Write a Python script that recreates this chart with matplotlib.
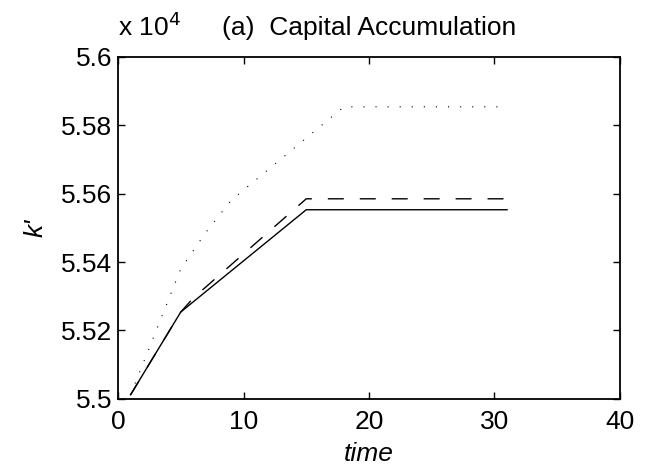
import matplotlib
matplotlib.use('Agg')
import matplotlib.pyplot as plt

plt.rcParams['font.family'] = ['Liberation Sans', 'DejaVu Sans']
plt.rcParams['lines.scale_dashes'] = False

# capital path k' for three scenarios (units of 1)
t_solid = [1, 5, 15, 31]
k_solid = [55012, 55254, 55553, 55553]

t_dash = [1, 5, 6, 15, 31]
k_dash = [55012, 55254, 55295, 55585, 55585]

t_dot = [1, 5, 7, 9, 18, 31]
k_dot = [55012, 55380, 55487, 55580, 55854, 55854]

xticks = [0, 10, 20, 30, 40]
yticks = [5.5, 5.52, 5.54, 5.56, 5.58, 5.6]
scale = 1e4

fig = plt.figure(figsize=(6.46, 4.66), dpi=100)
ax = fig.add_axes([0.1827, 0.144, 0.777, 0.734])

ax.plot(t_dot, [k / scale for k in k_dot], color='k', lw=0.8,
        dashes=(0.8, 7.9))
ax.plot(t_dash, [k / scale for k in k_dash], color='k', lw=1.0,
        dashes=(11.5, 11.5))
ax.plot(t_solid, [k / scale for k in k_solid], color='k', lw=1.0)

ax.set_xlim(0, 40)
ax.set_ylim(5.5, 5.6)
ax.set_xticks(xticks)
ax.set_xticklabels([str(x) for x in xticks])
ax.set_yticks(yticks)
ax.set_yticklabels(['5.5', '5.52', '5.54', '5.56', '5.58', '5.6'])
ax.tick_params(direction='in', length=5, width=1, labelsize=19,
               top=True, right=True)
ax.tick_params(axis='x', pad=8)
ax.tick_params(axis='y', pad=4)
for s in ax.spines.values():
    s.set_linewidth(1.3)

ax.set_xlabel('time', fontsize=19, style='italic', labelpad=6)
ax.set_ylabel("k'", fontsize=19, style='italic', labelpad=10)
ax.set_title('(a)  Capital Accumulation', fontsize=19, pad=16)
ax.text(0, 1.045, 'x 10$^4$', transform=ax.transAxes, fontsize=19,
        ha='left', va='bottom')

fig.savefig('out.png', dpi=100)
